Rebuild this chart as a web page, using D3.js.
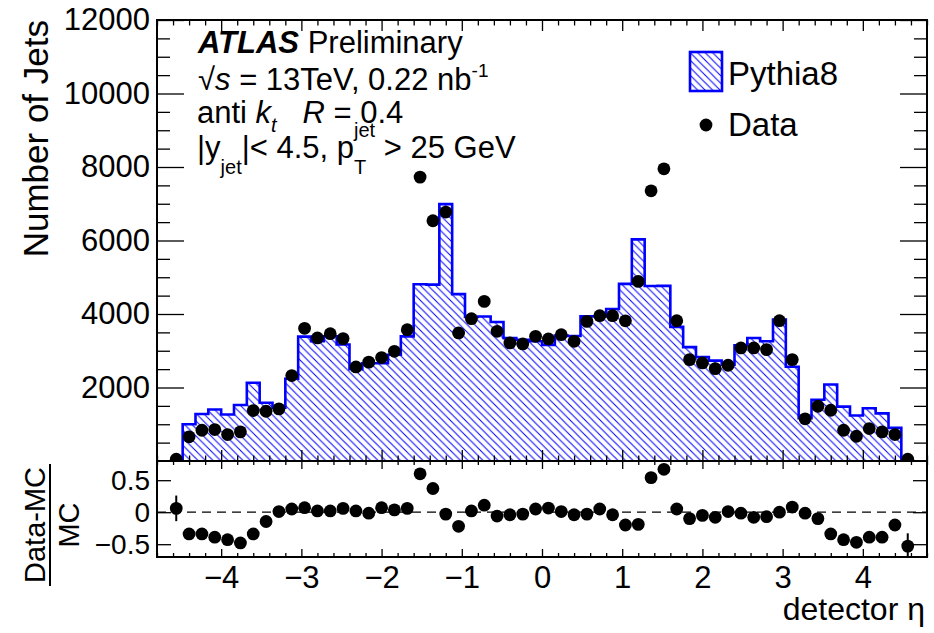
<!DOCTYPE html>
<html><head><meta charset="utf-8">
<script src="https://cdn.jsdelivr.net/npm/d3@7"></script>
<style>
html,body{margin:0;padding:0;background:#fff;}
svg{display:block;}
text{white-space:pre;}
</style></head><body>
<svg id="c" width="934" height="633"></svg>
<script>
// ---------------- data ----------------
const etaCenters = [-4.56,-4.40,-4.24,-4.08,-3.92,-3.76,-3.60,-3.44,-3.28,-3.12,-2.96,-2.80,-2.64,-2.48,-2.32,-2.16,-2.00,-1.84,-1.68,-1.52,-1.36,-1.20,-1.04,-0.88,-0.72,-0.56,-0.40,-0.24,-0.08,0.08,0.24,0.40,0.56,0.72,0.88,1.04,1.20,1.36,1.52,1.68,1.84,2.00,2.16,2.32,2.48,2.64,2.80,2.96,3.12,3.28,3.44,3.60,3.76,3.92,4.08,4.24,4.40,4.56];
const binHalfWidth = 0.08;
const dataCounts = [50,658,837,856,720,793,1373,1354,1418,2324,3610,3348,3465,3330,2560,2690,2815,2985,3574,7725,6537,6773,3484,3873,4343,3528,3212,3185,3393,3321,3438,3257,3800,3955,3955,3815,4888,7352,7950,3819,2759,2668,2514,2605,3076,3076,3031,3819,2759,1147,1490,1381,837,674,883,793,720,50];
const mcCounts = [0,1000,1280,1400,1265,1525,2130,1585,1450,2240,3385,3260,3395,3170,2500,2660,2660,2890,3390,4810,4800,6990,4540,3920,3930,3783,3348,3300,3260,3160,3415,3400,3935,3930,4135,4820,6030,4760,4765,3650,3100,2830,2731,2620,3145,3345,3257,3850,2565,1165,1665,2080,1480,1240,1435,1295,902,0];
const ratioValues = [0.06,-0.34,-0.34,-0.39,-0.43,-0.48,-0.34,-0.145,0.01,0.05,0.07,0.02,0.02,0.06,0.02,-0.015,0.07,0.036,0.06,0.6,0.37,-0.03,-0.22,0.02,0.11,-0.06,-0.04,-0.03,0.05,0.065,0.01,-0.04,-0.03,0.05,-0.04,-0.2,-0.19,0.54,0.67,0.05,-0.10,-0.05,-0.08,0.01,-0.015,-0.08,-0.07,0.0,0.08,-0.015,-0.10,-0.34,-0.43,-0.47,-0.39,-0.39,-0.2,-0.53];
const ratioErrors = [0.2,0,0,0,0,0,0,0,0,0,0,0,0,0,0,0,0,0,0,0,0,0,0,0,0,0,0,0,0,0,0,0,0,0,0,0,0,0,0,0,0,0,0,0,0,0,0,0,0,0,0,0,0,0,0,0,0,0.2];
const yTickValues = [2000,4000,6000,8000,10000,12000];
const xTickValues = [-4,-3,-2,-1,0,1,2,3,4];
const ratioTickValues = [-0.5,0,0.5];

// ---------------- layout ----------------
const FONT = '"Liberation Sans", Arial, Helvetica, sans-serif';
const L = 157, R = 927, T = 20, MB = 461, RB = 557;
const svg = d3.select("#c").attr("font-family", FONT);

const x = d3.scaleLinear().domain([-4.8, 4.8]).range([L, R]);
const y = d3.scaleLinear().domain([0, 12000]).range([MB, T]);
const yr = d3.scaleLinear().domain([-0.7, 0.8]).range([RB, MB]);

const defs = svg.append("defs");
const pat = defs.append("pattern").attr("id", "hatch")
  .attr("patternUnits", "userSpaceOnUse").attr("width", 7.5).attr("height", 7.5);
pat.append("path").attr("d", "M0,0L7.5,7.5M-1,6.5L1,8.5M6.5,-1L8.5,1")
  .attr("stroke", "#0000ff").attr("stroke-width", 1).attr("fill", "none");
defs.append("clipPath").attr("id", "clipMain").append("rect")
  .attr("x", L).attr("y", T).attr("width", R - L).attr("height", MB - T);
defs.append("clipPath").attr("id", "clipRatio").append("rect")
  .attr("x", L).attr("y", MB).attr("width", R - L).attr("height", RB - MB);

// ---------------- histogram (MC) ----------------
const mcBins = etaCenters.map((c, i) => ({lo: c - binHalfWidth, hi: c + binHalfWidth, v: mcCounts[i]}))
  .filter(b => b.v > 0);
const stepPts = [];
mcBins.forEach(b => { stepPts.push([b.lo, b.v]); stepPts.push([b.hi, b.v]); });
const area = d3.area().x(d => x(d[0])).y0(y(0)).y1(d => y(d[1]));
const mainG = svg.append("g").attr("clip-path", "url(#clipMain)");
mainG.append("path").datum(stepPts).attr("d", area).attr("fill", "url(#hatch)");
const outlinePts = [[mcBins[0].lo, 0]].concat(stepPts).concat([[mcBins[mcBins.length - 1].hi, 0]]);
mainG.append("path").datum(outlinePts)
  .attr("d", d3.line().x(d => x(d[0])).y(d => y(d[1])))
  .attr("fill", "none").attr("stroke", "#0000ff").attr("stroke-width", 2.6);

// ---------------- axes helpers ----------------
function styleAxis(g, size) {
  g.select(".domain").remove();
  g.attr("font-family", FONT).attr("font-size", size);
  g.selectAll(".tick line").attr("stroke", "#000").attr("stroke-width", 1.3);
  g.selectAll(".tick text").attr("fill", "#000");
  return g;
}
const fmtMinus = v => (v < 0 ? "\u2212" : "") + Math.abs(v);
const xMinor = x.ticks(48).filter(v => Math.abs(v - Math.round(v)) > 1e-6);
const yMinor = y.ticks(24).filter(v => v % 2000 !== 0);

// main panel ticks
svg.append("g").attr("transform", `translate(0,${MB})`)
  .call(d3.axisBottom(x).tickValues(xMinor).tickSize(-5.5).tickSizeOuter(0).tickFormat("")).call(g => styleAxis(g, 10));
svg.append("g").attr("transform", `translate(0,${MB})`)
  .call(d3.axisBottom(x).tickValues(xTickValues).tickSize(-11).tickSizeOuter(0).tickFormat("")).call(g => styleAxis(g, 10));
svg.append("g").attr("transform", `translate(0,${T})`)
  .call(d3.axisTop(x).tickValues(xMinor).tickSize(-5.5).tickSizeOuter(0).tickFormat("")).call(g => styleAxis(g, 10));
svg.append("g").attr("transform", `translate(0,${T})`)
  .call(d3.axisTop(x).tickValues(xTickValues).tickSize(-11).tickSizeOuter(0).tickFormat("")).call(g => styleAxis(g, 10));
svg.append("g").attr("transform", `translate(${L},0)`)
  .call(d3.axisLeft(y).tickValues(yMinor).tickSize(-13).tickSizeOuter(0).tickFormat("")).call(g => styleAxis(g, 10));
svg.append("g").attr("transform", `translate(${L},0)`)
  .call(d3.axisLeft(y).tickValues(yTickValues).tickSize(-27).tickSizeOuter(0).tickPadding(7).tickFormat(d => String(d)))
  .call(g => styleAxis(g, 31));
svg.append("g").attr("transform", `translate(${R},0)`)
  .call(d3.axisRight(y).tickValues(yMinor).tickSize(-13).tickSizeOuter(0).tickFormat("")).call(g => styleAxis(g, 10));
svg.append("g").attr("transform", `translate(${R},0)`)
  .call(d3.axisRight(y).tickValues(yTickValues).tickSize(-27).tickSizeOuter(0).tickFormat("")).call(g => styleAxis(g, 10));

// ratio panel ticks
svg.append("g").attr("transform", `translate(0,${RB})`)
  .call(d3.axisBottom(x).tickValues(xMinor).tickSize(-4).tickSizeOuter(0).tickFormat("")).call(g => styleAxis(g, 10));
svg.append("g").attr("transform", `translate(0,${RB})`)
  .call(d3.axisBottom(x).tickValues(xTickValues).tickSize(-8).tickSizeOuter(0).tickPadding(9).tickFormat(fmtMinus))
  .call(g => styleAxis(g, 31));
svg.append("g").attr("transform", `translate(0,${MB})`)
  .call(d3.axisTop(x).tickValues(xMinor).tickSize(-4).tickSizeOuter(0).tickFormat("")).call(g => styleAxis(g, 10));
svg.append("g").attr("transform", `translate(0,${MB})`)
  .call(d3.axisTop(x).tickValues(xTickValues).tickSize(-8).tickSizeOuter(0).tickFormat("")).call(g => styleAxis(g, 10));
svg.append("g").attr("transform", `translate(${L},0)`)
  .call(d3.axisLeft(yr).tickValues(ratioTickValues).tickSize(-14).tickSizeOuter(0).tickPadding(7).tickFormat(fmtMinus))
  .call(g => styleAxis(g, 28));
svg.append("g").attr("transform", `translate(${R},0)`)
  .call(d3.axisRight(yr).tickValues(ratioTickValues).tickSize(-14).tickSizeOuter(0).tickFormat("")).call(g => styleAxis(g, 10));

// frames
svg.append("rect").attr("x", L).attr("y", T).attr("width", R - L).attr("height", MB - T)
  .attr("fill", "none").attr("stroke", "#000").attr("stroke-width", 2);
svg.append("rect").attr("x", L).attr("y", MB).attr("width", R - L).attr("height", RB - MB)
  .attr("fill", "none").attr("stroke", "#000").attr("stroke-width", 2);

// ---------------- data points ----------------
const MR = 6.4;
mainG.selectAll("circle.data").data(etaCenters.map((c, i) => ({c, v: dataCounts[i]})))
  .join("circle").attr("class", "data")
  .attr("cx", d => x(d.c)).attr("cy", d => y(d.v)).attr("r", MR).attr("fill", "#000");

// ---------------- ratio panel ----------------
const ratioG = svg.append("g").attr("clip-path", "url(#clipRatio)");
ratioG.append("line").attr("x1", L).attr("x2", R).attr("y1", yr(0)).attr("y2", yr(0))
  .attr("stroke", "#000").attr("stroke-width", 1.3).attr("stroke-dasharray", "9,6");
const ratioPts = etaCenters.map((c, i) => ({c, r: ratioValues[i], e: ratioErrors[i]}));
ratioG.selectAll("line.err").data(ratioPts.filter(d => d.e > 0)).join("line").attr("class", "err")
  .attr("x1", d => x(d.c)).attr("x2", d => x(d.c))
  .attr("y1", d => yr(d.r - d.e)).attr("y2", d => yr(d.r + d.e))
  .attr("stroke", "#000").attr("stroke-width", 2);
ratioG.selectAll("circle.rp").data(ratioPts).join("circle").attr("class", "rp")
  .attr("cx", d => x(d.c)).attr("cy", d => yr(d.r)).attr("r", MR).attr("fill", "#000");

// ---------------- text ----------------
function richText(x0, y0, runs, baseSize) {
  const g = svg.append("g");
  let cx = x0, prevX = x0;
  runs.forEach(r => {
    const size = r.size || baseSize;
    const sx = r.stack ? prevX : cx;
    const t = g.append("text").attr("x", sx).attr("y", y0 + (r.dy || 0))
      .attr("font-size", size).attr("fill", "#000")
      .attr("font-style", r.italic ? "italic" : "normal")
      .attr("font-weight", r.bold ? "bold" : "normal").text(r.t);
    const w = t.node().getComputedTextLength();
    if (r.stack) { cx = Math.max(cx, sx + w); }
    else { prevX = sx; cx = sx + w; }
  });
  return g;
}
richText(198, 53, [{t: "ATLAS", bold: true, italic: true}, {t: " Preliminary"}], 31);
richText(198, 90, [{t: "\u221A"}, {t: "s", italic: true}, {t: " = 13TeV, 0.22 nb"}, {t: "-1", size: 19, dy: -13}], 31);
richText(197, 123, [{t: "anti "}, {t: "k", italic: true}, {t: "t", italic: true, size: 20, dy: 9}, {t: "   "}, {t: "R", italic: true}, {t: " = 0.4"}], 31);
richText(197, 158, [{t: "|y"}, {t: "jet", size: 20, dy: 16}, {t: "|< 4.5, p"}, {t: "T", size: 20, dy: 16}, {t: "jet", size: 20, dy: -21, stack: true}, {t: " > 25 GeV"}], 31);

// legend
svg.append("rect").attr("x", 690).attr("y", 52).attr("width", 32).attr("height", 39)
  .attr("fill", "url(#hatch)").attr("stroke", "#0000ff").attr("stroke-width", 2.6);
svg.append("text").attr("x", 728).attr("y", 85).attr("font-size", 33).text("Pythia8");
svg.append("circle").attr("cx", 706).attr("cy", 125).attr("r", MR).attr("fill", "#000");
svg.append("text").attr("x", 728).attr("y", 136).attr("font-size", 33).text("Data");

// axis titles
svg.append("text").attr("transform", `translate(48,${T}) rotate(-90)`)
  .attr("text-anchor", "end").attr("font-size", 35).text("Number of Jets");
svg.append("text").attr("x", 925).attr("y", 620).attr("text-anchor", "end")
  .attr("font-size", 32).text("detector \u03B7");
const fr = svg.append("g").attr("transform", "translate(0,525) rotate(-90)");
fr.append("text").attr("x", 0).attr("y", 45).attr("text-anchor", "middle").attr("font-size", 29).text("Data-MC");
fr.append("text").attr("x", 0).attr("y", 79).attr("text-anchor", "middle").attr("font-size", 29).text("MC");
fr.append("line").attr("x1", -61).attr("x2", 61).attr("y1", 50).attr("y2", 50)
  .attr("stroke", "#000").attr("stroke-width", 2);
</script>
</body></html>
